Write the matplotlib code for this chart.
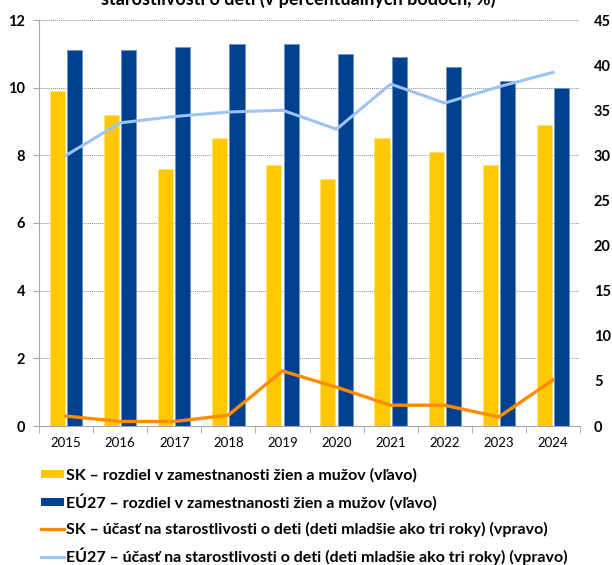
import matplotlib
matplotlib.use("Agg")
import matplotlib.pyplot as plt
import matplotlib.lines as mlines
import matplotlib.patches as mpatches
import numpy as np

# ── Data ──────────────────────────────────────────────────────────────────────
years = ["2015", "2016", "2017", "2018", "2019", "2020", "2021", "2022", "2023", "2024"]
sk_gap   = [9.9, 9.2, 7.6, 8.5, 7.7, 7.3, 8.5, 8.1, 7.7, 8.9]
eu_gap   = [11.1, 11.1, 11.2, 11.3, 11.3, 11.0, 10.9, 10.6, 10.2, 10.0]
sk_care  = [1.1, 0.5, 0.5, 1.2, 6.1, 4.3, 2.3, 2.3, 1.0, 5.1]
eu_care  = [30.0, 33.6, 34.3, 34.8, 35.0, 32.9, 37.9, 35.8, 37.6, 39.2]

labels = [
    "SK \u2013 rozdiel v zamestnanosti žien a mužov (vľavo)",
    "EÚ27 \u2013 rozdiel v zamestnanosti žien a mužov (vľavo)",
    "SK \u2013 účasť na starostlivosti o deti (deti mladšie ako tri roky) (vpravo)",
    "EÚ27 \u2013 účasť na starostlivosti o deti (deti mladšie ako tri roky) (vpravo)",
]
title_tail = "starostlivosti o deti (v percentuálnych bodoch, %)"

# ── Palette ───────────────────────────────────────────────────────────────────
_YELLOW = "#FFC800"
_BLUE   = "#00418F"
_ORANGE = "#FF8C00"
_LBLUE  = "#9CC3F5"
_GRIDC  = "#8C8C8C"
_AXIS   = "#A6A6A6"

plt.rcParams["font.family"] = ["Lato", "DejaVu Sans"]

fig = plt.figure(figsize=(6.12, 5.65), dpi=100)
ax = fig.add_axes([39 / 612, 1 - 426 / 565, 541 / 612, 406 / 565])
ax2 = ax.twinx()

x = np.arange(len(years))
w = 0.28
off = 0.16
ax.bar(x - off, sk_gap, w, color=_YELLOW, edgecolor="#FFE27A", linewidth=0.6, zorder=2)
ax.bar(x + off, eu_gap, w, color=_BLUE, edgecolor="#6F93C4", linewidth=0.6, zorder=2)

ax2.plot(x, sk_care, color=_ORANGE, linewidth=2.4, zorder=3)
ax2.plot(x, eu_care, color=_LBLUE, linewidth=2.2, zorder=3)

# ── Axes ──────────────────────────────────────────────────────────────────────
ax.set_xlim(-0.5, len(years) - 0.5)
ax.set_ylim(0, 12)
ax.set_yticks(range(0, 13, 2))
ax2.set_ylim(0, 45)
ax2.set_yticks(range(0, 46, 5))

ax.yaxis.grid(True, color=_GRIDC, linestyle=(0, (1, 1)), linewidth=0.7)
ax.set_axisbelow(True)

ax.set_xticks(x)
ax.set_xticklabels(years, fontsize=9.5)
ax.set_xticks(np.arange(-0.5, len(years)), minor=True)
ax.tick_params(axis="x", which="major", length=0, pad=8)
ax.tick_params(axis="x", which="minor", length=5, color=_AXIS, direction="out")
ax.tick_params(axis="y", length=4, color=_AXIS, labelsize=10.5, pad=6)
for lab in ax.get_yticklabels():
    lab.set_fontweight("bold")

ax2.tick_params(axis="y", length=0, labelsize=10.5, pad=10)
for lab in ax2.get_yticklabels():
    lab.set_fontweight("bold")

for a in (ax, ax2):
    for s in ("top", "right"):
        a.spines[s].set_visible(False)
ax2.spines["left"].set_visible(False)
ax2.spines["bottom"].set_visible(False)
ax.spines["left"].set_color(_AXIS)
ax.spines["bottom"].set_color(_AXIS)

ax.set_zorder(ax2.get_zorder() - 1)
ax.patch.set_visible(True)
ax2.patch.set_visible(False)

# ── Title (top line clipped off) ──────────────────────────────────────────────
fig.text(0.488, 1 - 5 / 565, title_tail, ha="center", va="baseline",
         fontsize=13, fontweight="bold")

# ── Legend ────────────────────────────────────────────────────────────────────
handles = [
    mpatches.Patch(facecolor=_YELLOW, edgecolor="none", label=labels[0]),
    mpatches.Patch(facecolor=_BLUE, edgecolor="none", label=labels[1]),
    mlines.Line2D([], [], color=_ORANGE, linewidth=2.4, label=labels[2]),
    mlines.Line2D([], [], color=_LBLUE, linewidth=2.2, label=labels[3]),
]
leg = fig.legend(handles=handles, loc="upper left",
                 bbox_to_anchor=(41 / 612, 1 - 468 / 565),
                 frameon=False, prop={"weight": "bold", "size": 11.5},
                 handlelength=1.44, handleheight=0.37, handletextpad=0.12,
                 labelspacing=0.69, borderaxespad=0, borderpad=0)

fig.savefig("out.png", dpi=100)
